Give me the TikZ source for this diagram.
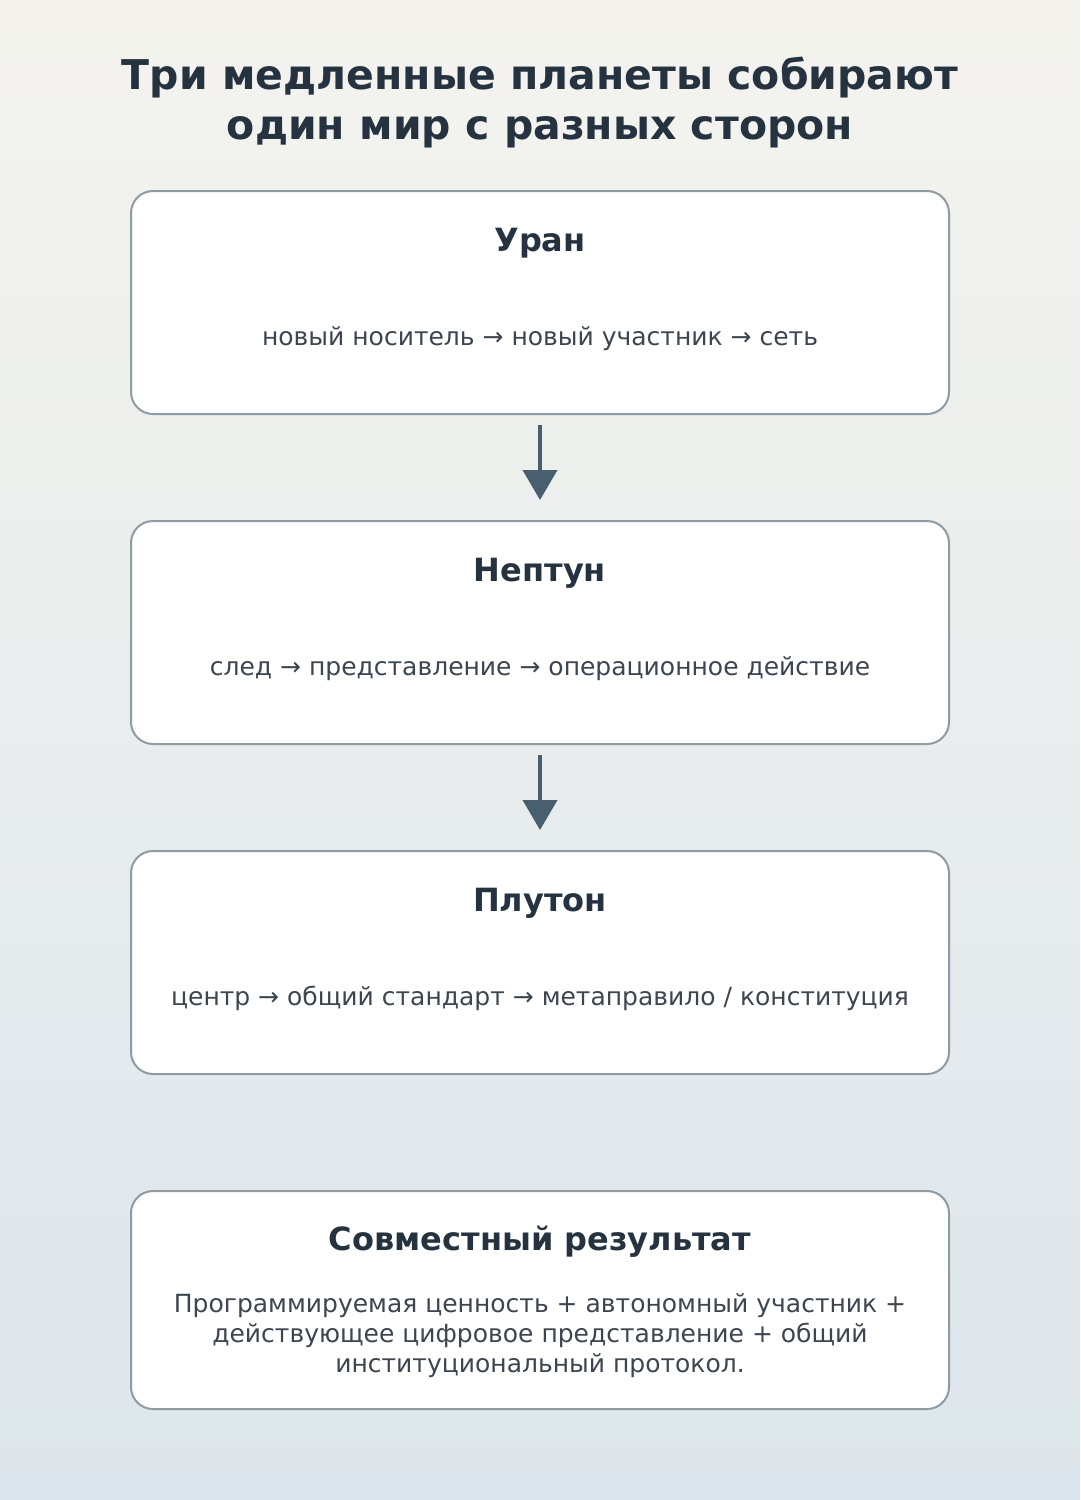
\documentclass[tikz,border=0pt]{standalone}
\usepackage{fontspec}
\setmainfont{DejaVu Sans}
\usetikzlibrary{arrows.meta}
\definecolor{titlec}{HTML}{253340}
\definecolor{bodyc}{HTML}{3D4650}
\definecolor{borderc}{HTML}{8F9BA3}
\definecolor{arrowc}{HTML}{475F6E}
\definecolor{bgtop}{HTML}{F4F3EE}
\definecolor{bgbot}{HTML}{DDE6EC}
\tikzset{
  card/.style={draw=borderc, line width=2pt, fill=white, rounded corners=22pt},
  headtxt/.style={anchor=base, text=titlec, font=\fontsize{32}{38}\selectfont\bfseries, inner sep=0pt},
  bodytxt/.style={anchor=base, text=bodyc, font=\fontsize{25}{30}\selectfont, inner sep=0pt, align=center},
  flow/.style={draw=arrowc, line width=4pt, -{Triangle[width=34pt,length=30pt]}}
}
\begin{document}
\begin{tikzpicture}[x=1pt,y=-1pt]
\useasboundingbox (0,0) rectangle (1080,1500);
\shade[top color=bgtop, bottom color=bgbot] (0,0) rectangle (1080,1500);
\node[anchor=base, text=titlec, font=\fontsize{41}{50}\selectfont\bfseries, align=center, inner sep=0pt] (title) at (540,139)
  {Три медленные планеты собирают\\один мир с разных сторон};
% cards
\draw[card] (131,191) rectangle (949,414);
\draw[card] (131,521) rectangle (949,744);
\draw[card] (131,851) rectangle (949,1074);
\draw[card] (131,1191) rectangle (949,1409);
\node[headtxt] (h1) at (540,251) {Уран};
\node[bodytxt] (t1) at (540,345) {новый носитель → новый участник → сеть};
\node[headtxt] (h2) at (540,581) {Нептун};
\node[bodytxt] (t2) at (540,675) {след → представление → операционное действие};
\node[headtxt] (h3) at (540,911) {Плутон};
\node[bodytxt] (t3) at (540,1005) {центр → общий стандарт → метаправило / конституция};
\node[headtxt] (h4) at (540,1250) {Совместный результат};
\node[bodytxt] (t4) at (540,1372)
  {Программируемая ценность + автономный участник +\\действующее цифровое представление + общий\\институциональный протокол.};
\coordinate (a1s) at (540,425);
\coordinate (a1e) at (540,500);
\coordinate (a2s) at (540,755);
\coordinate (a2e) at (540,830);
\draw[flow] (a1s) -- (a1e);
\draw[flow] (a2s) -- (a2e);
\end{tikzpicture}
\end{document}
